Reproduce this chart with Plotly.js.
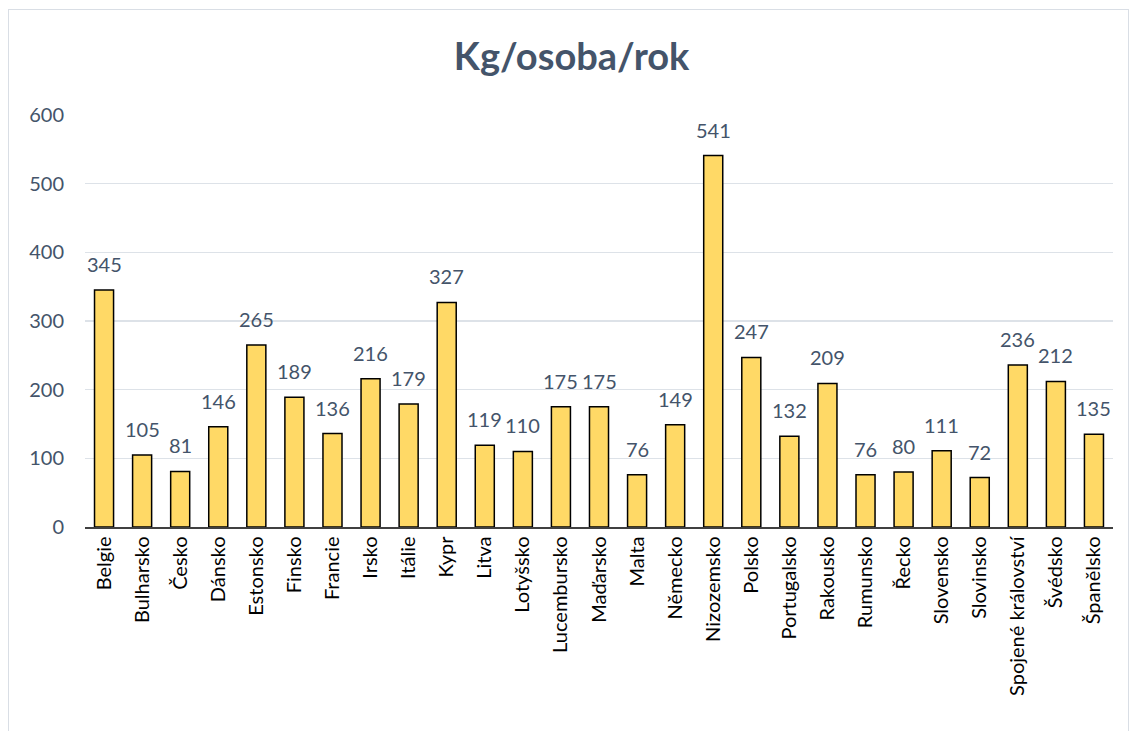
<!DOCTYPE html>
<html><head><meta charset="utf-8">
<script src="https://cdn.plot.ly/plotly-3.0.1.min.js"></script>
<style>
html,body{margin:0;padding:0;background:#fff;}
#frame{position:absolute;left:8px;top:9px;width:1121px;height:740px;border:1px solid #D9DEE5;box-sizing:border-box;pointer-events:none;}
#chart{width:1132px;height:731px;}
</style></head>
<body>
<div id="chart"></div>
<div id="frame"></div>
<script>
const countries = ["Belgie","Bulharsko","Česko","Dánsko","Estonsko","Finsko","Francie","Irsko","Itálie","Kypr","Litva","Lotyšsko","Lucembursko","Maďarsko","Malta","Německo","Nizozemsko","Polsko","Portugalsko","Rakousko","Rumunsko","Řecko","Slovensko","Slovinsko","Spojené království","Švédsko","Španělsko"];
const values = [345,105,81,146,265,189,136,216,179,327,119,110,175,175,76,149,541,247,132,209,76,80,111,72,236,212,135];
const titleText = "Kg/osoba/rok";
const yTicks = [0,100,200,300,400,500,600];

const font = "Lato, 'Open Sans', sans-serif";
const bars = {
  type: "bar",
  x: countries,
  y: values,
  marker: {color: "#FFD966", line: {color: "#000000", width: 1.5}},
  width: 0.5,
  hoverinfo: "x+y"
};
const annotations = countries.map((c, i) => ({
  x: c, y: values[i], xref: "x", yref: "y",
  text: String(values[i]), showarrow: false,
  yanchor: "bottom", yshift: 12,
  font: {family: font, size: 20, color: "#44546A"}
}));
const layout = {
  width: 1132, height: 731,
  margin: {l: 85, r: 19, t: 115, b: 204},
  paper_bgcolor: "#ffffff", plot_bgcolor: "#ffffff",
  title: {text: "<b>" + titleText + "</b>", font: {family: font, size: 38, color: "#44546A"}, x: 0.505, xanchor: "center", y: 0.922, yanchor: "middle"},
  font: {family: font},
  xaxis: {
    type: "category", range: [-0.5, countries.length - 0.5], tickangle: -90,
    tickfont: {family: font, size: 20, color: "#000000"},
    showline: true, linecolor: "#404040", linewidth: 1.5, ticks: "", showgrid: false
  },
  yaxis: {
    range: [0, 600], tickvals: yTicks, ticktext: yTicks.map(String),
    tickfont: {family: font, size: 20, color: "#44546A"},
    showgrid: true, gridcolor: "#DDE2E8", gridwidth: 1.5, zeroline: false, showline: false, ticks: "", ticklen: 0, ticklabelstandoff: 20
  },
  annotations: annotations,
  showlegend: false, bargap: 0.5
};
Plotly.newPlot("chart", [bars], layout, {displayModeBar: false, staticPlot: true});
</script>
</body></html>
